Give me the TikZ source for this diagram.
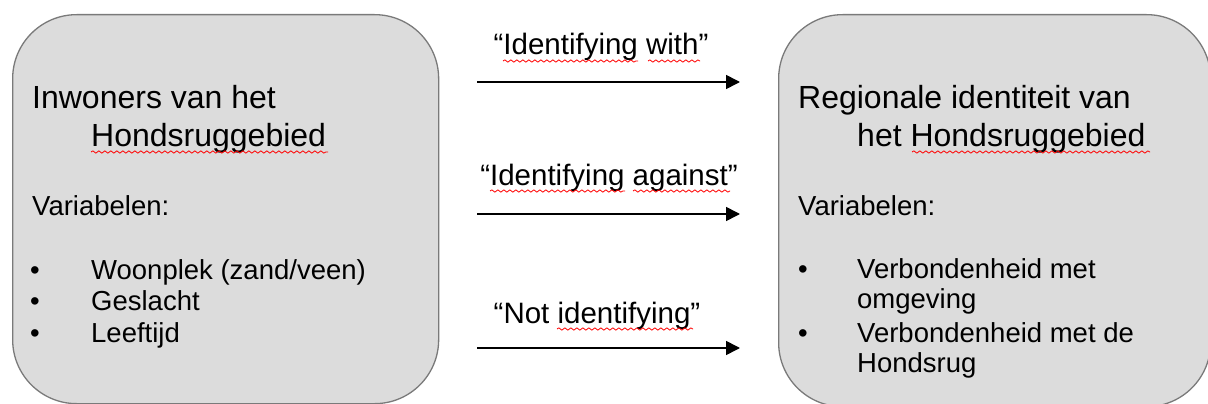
\documentclass[tikz,border=0pt]{standalone}
\usepackage{fontspec}
\setmainfont{Liberation Sans}
\usetikzlibrary{arrows.meta,decorations.pathmorphing}
\definecolor{boxfill}{HTML}{DCDCDC}
\definecolor{boxline}{HTML}{7A7A7A}
\begin{document}
\begin{tikzpicture}[x=1pt,y=-1pt,
  panel/.style={draw=boxline,line width=1.3pt,fill=boxfill,rounded corners=64pt,inner sep=0pt},
  title/.style={anchor=base west,inner sep=0pt,font=\fontsize{32}{38}\selectfont},
  body/.style={anchor=base west,inner sep=0pt,font=\fontsize{27.5}{33}\selectfont},
  lbl/.style={anchor=base,inner sep=0pt,font=\fontsize{29.5}{35}\selectfont},
  flow/.style={line width=1.6pt,-{Triangle[length=14pt,width=14pt]}},
  wavy/.style={red,line width=0.8pt,decorate,decoration={snake,amplitude=1.1pt,segment length=6pt}}]
\useasboundingbox (0,0) rectangle (1208,404);
\clip (0,0) rectangle (1208,404);
% boxes
\node[panel,minimum width=426pt,minimum height=389pt,anchor=north west] (lbox) at (12,14) {};
\node[panel,minimum width=432pt,minimum height=392pt,anchor=north west] (rbox) at (778,14) {};
% left texts
\node[title] (l1) at (32,109) {Inwoners van het};
\node[title] (l2) at (91,146) {Hondsruggebied};
\node[body] (lv) at (32,215) {Variabelen:};
\node[body] (lb1) at (30,279) {•};
\node[body] (lb2) at (30,310) {•};
\node[body] (lb3) at (30,342) {•};
\node[body] (li1) at (91,279) {Woonplek (zand/veen)};
\node[body] (li2) at (91,310) {Geslacht};
\node[body] (li3) at (91,342) {Leeftijd};
% right texts
\node[title] (r1) at (798,109) {Regionale identiteit van};
\node[title] (r2) at (857,146) {het Hondsruggebied};
\node[body] (rv) at (798,215) {Variabelen:};
\node[body] (rb1) at (798,278) {•};
\node[body] (rb2) at (798,342) {•};
\node[body] (ri1) at (857,278) {Verbondenheid met};
\node[body] (ri2) at (857,308) {omgeving};
\node[body] (ri3) at (857,342) {Verbondenheid met de};
\node[body] (ri4) at (857,372) {Hondsrug};
% labels
\node[lbl] (t1) at (601,55) {“Identifying with”};
\node[lbl] (t2) at (609,185) {“Identifying against”};
\node[lbl] (t3) at (597,323) {“Not identifying”};
% arrows
\coordinate (a1s) at (477,82); \coordinate (a1e) at (740,82);
\coordinate (a2s) at (477,214); \coordinate (a2e) at (740,214);
\coordinate (a3s) at (477,348); \coordinate (a3e) at (740,348);
\draw[flow] (a1s) -- (a1e);
\draw[flow] (a2s) -- (a2e);
\draw[flow] (a3s) -- (a3e);
% spell-check underlines
\draw[wavy] (91,152) -- (328,152);
\draw[wavy] (912,152) -- (1150,152);
\draw[wavy] (503,61) -- (638,61);
\draw[wavy] (648,61) -- (700,61);
\draw[wavy] (490,191) -- (625,191);
\draw[wavy] (633,191) -- (730,191);
\draw[wavy] (557,329) -- (693,329);
\end{tikzpicture}
\end{document}
